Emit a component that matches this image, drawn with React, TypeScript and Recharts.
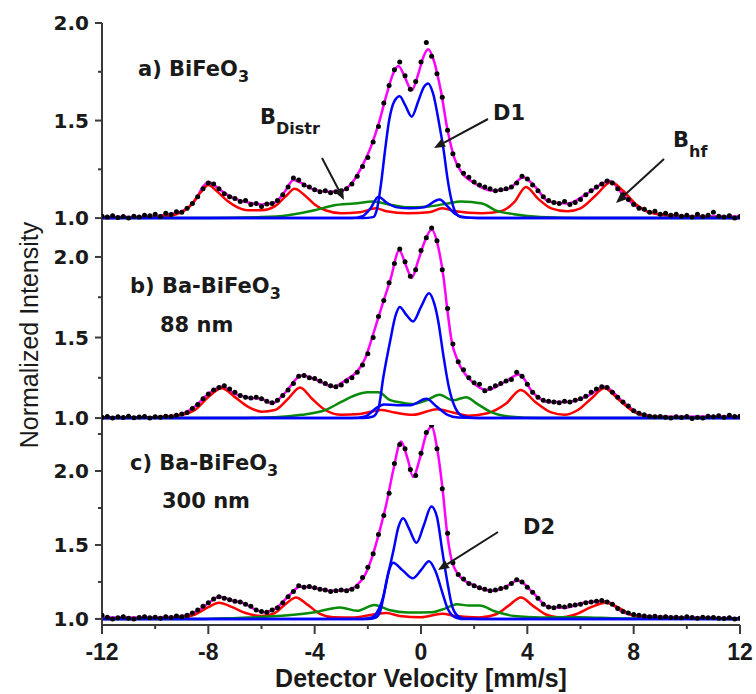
import React from 'react';
import { ComposedChart, Line, Scatter, XAxis, YAxis } from 'recharts';

type Pt = [number, number];

// measured points: one every 0.2 mm/s from -12 to 12 (121 per panel)
const V_START = -12;
const V_STEP = 0.2;

const dotsA = [
  1.010, 1.005, 1.012, 1.003, 1.008, 1.000, 1.010, 1.006, 1.015, 1.012, 1.020,
  1.008, 1.025, 1.018, 1.032, 1.030, 1.050, 1.075, 1.110, 1.150, 1.180, 1.175,
  1.150, 1.125, 1.110, 1.100, 1.085, 1.090, 1.070, 1.075, 1.060, 1.072, 1.075,
  1.090, 1.120, 1.160, 1.205, 1.195, 1.170, 1.160, 1.145, 1.135, 1.140, 1.130,
  1.135, 1.140, 1.150, 1.175, 1.215, 1.265, 1.310, 1.390, 1.470, 1.590, 1.680,
  1.760, 1.800, 1.730, 1.660, 1.700, 1.800, 1.900, 1.830, 1.740, 1.620, 1.450,
  1.330, 1.270, 1.230, 1.210, 1.185, 1.170, 1.160, 1.150, 1.140, 1.145, 1.150,
  1.160, 1.180, 1.215, 1.200, 1.170, 1.140, 1.110, 1.090, 1.080, 1.075, 1.085,
  1.070, 1.080, 1.095, 1.120, 1.140, 1.160, 1.175, 1.190, 1.180, 1.150, 1.120,
  1.095, 1.070, 1.050, 1.045, 1.030, 1.035, 1.020, 1.025, 1.015, 1.020, 1.010,
  1.015, 1.005, 1.020, 1.008, 1.015, 1.030, 1.010, 1.005, 1.012, 1.000, 1.008,
];

const dotsB = [
  1.005, 1.010, 1.000, 1.008, 1.004, 1.012, 1.002, 1.006, 1.010, 1.000, 1.008,
  1.005, 1.012, 1.010, 1.018, 1.025, 1.035, 1.060, 1.085, 1.120, 1.150, 1.175,
  1.190, 1.200, 1.180, 1.160, 1.140, 1.130, 1.125, 1.130, 1.120, 1.105, 1.095,
  1.110, 1.140, 1.175, 1.215, 1.260, 1.265, 1.250, 1.245, 1.230, 1.215, 1.200,
  1.195, 1.205, 1.230, 1.250, 1.285, 1.330, 1.400, 1.500, 1.630, 1.730, 1.840,
  1.960, 2.050, 1.970, 1.880, 1.920, 2.040, 2.120, 2.180, 2.100, 1.920, 1.680,
  1.460, 1.350, 1.300, 1.250, 1.220, 1.210, 1.170, 1.185, 1.200, 1.215, 1.230,
  1.240, 1.285, 1.260, 1.210, 1.160, 1.130, 1.110, 1.105, 1.100, 1.095, 1.105,
  1.100, 1.110, 1.120, 1.135, 1.160, 1.180, 1.195, 1.190, 1.160, 1.130, 1.100,
  1.075, 1.045, 1.030, 1.020, 1.012, 1.008, 1.010, 1.005, 1.000, 1.008, 1.003,
  1.010, 0.998, 1.005, 1.000, 1.012, 1.008, 1.015, 1.005, 1.018, 1.010, 1.012,
];

const dotsC = [
  1.025, 1.012, 1.000, 1.008, 1.015, 1.005, 1.000, 1.010, 1.015, 1.008, 1.012,
  1.005, 1.015, 1.010, 1.020, 1.015, 1.025, 1.040, 1.060, 1.085, 1.110, 1.135,
  1.150, 1.140, 1.130, 1.120, 1.115, 1.100, 1.085, 1.060, 1.050, 1.045, 1.060,
  1.075, 1.110, 1.150, 1.185, 1.225, 1.215, 1.220, 1.210, 1.200, 1.195, 1.185,
  1.190, 1.195, 1.190, 1.200, 1.220, 1.280, 1.350, 1.440, 1.570, 1.700, 1.850,
  2.050, 2.180, 2.150, 2.010, 1.970, 2.120, 2.260, 2.310, 2.150, 1.880, 1.580,
  1.380, 1.300, 1.270, 1.240, 1.225, 1.210, 1.200, 1.190, 1.195, 1.205, 1.215,
  1.240, 1.265, 1.250, 1.215, 1.180, 1.140, 1.100, 1.080, 1.075, 1.085, 1.080,
  1.090, 1.095, 1.100, 1.110, 1.115, 1.120, 1.125, 1.115, 1.100, 1.070, 1.050,
  1.040, 1.030, 1.025, 1.020, 1.015, 1.018, 1.012, 1.015, 1.010, 1.012, 1.008,
  1.015, 1.010, 1.005, 1.012, 1.008, 1.010, 1.005, 1.003, 1.008, 1.000, 1.005,
];

// fitted curves, [velocity, intensity]
const fitA: Pt[] = [
  [-12, 1.005], [-11, 1.005], [-10, 1.01], [-9.5, 1.02], [-9, 1.035], [-8.5, 1.09], [-8.2, 1.16],
  [-8, 1.185], [-7.7, 1.16], [-7.3, 1.12], [-7, 1.1], [-6.5, 1.08], [-6, 1.07], [-5.5, 1.08],
  [-5.1, 1.14], [-4.8, 1.195], [-4.5, 1.18], [-4.1, 1.15], [-3.5, 1.135], [-3, 1.14], [-2.6, 1.18],
  [-2.2, 1.27], [-1.9, 1.36], [-1.6, 1.48], [-1.3, 1.63], [-1.05, 1.74], [-0.85, 1.78], [-0.6, 1.72],
  [-0.35, 1.655], [-0.1, 1.74], [0.1, 1.83], [0.27, 1.865], [0.5, 1.8], [0.75, 1.65], [1, 1.45],
  [1.25, 1.31], [1.5, 1.24], [2, 1.18], [2.7, 1.14], [3.3, 1.15], [3.85, 1.21], [4.3, 1.16],
  [4.8, 1.085], [5.5, 1.075], [6.3, 1.13], [7.1, 1.19], [7.6, 1.12], [8, 1.07], [8.4, 1.04],
  [9, 1.02], [10, 1.01], [12, 1.008],
];
const sextetA: Pt[] = [
  [-12, 1], [-10, 1.005], [-9.2, 1.02], [-8.7, 1.06], [-8.3, 1.13], [-8, 1.17], [-7.7, 1.14],
  [-7.3, 1.09], [-6.9, 1.055], [-6.5, 1.04], [-6, 1.04], [-5.5, 1.06], [-5.1, 1.11], [-4.75, 1.15],
  [-4.4, 1.12], [-4, 1.07], [-3.6, 1.04], [-3, 1.025], [-2.3, 1.03], [-1.7, 1.05], [-1.3, 1.035],
  [-0.5, 1.025], [0.3, 1.03], [0.8, 1.05], [1.3, 1.035], [2.3, 1.025], [3, 1.035], [3.5, 1.08],
  [3.95, 1.16], [4.4, 1.1], [4.9, 1.05], [5.5, 1.035], [6, 1.05], [6.6, 1.12], [7.15, 1.185],
  [7.6, 1.14], [8.1, 1.07], [8.6, 1.03], [9.5, 1.01], [10.5, 1.005], [12, 1],
];
const distrA: Pt[] = [
  [-12, 1], [-8, 1], [-6, 1.005], [-5, 1.015], [-4, 1.04], [-3.3, 1.065], [-2.5, 1.075],
  [-1.8, 1.085], [-1.2, 1.07], [-0.5, 1.055], [0.3, 1.06], [1, 1.075], [1.5, 1.085], [2.3, 1.075],
  [2.8, 1.04], [3.5, 1.02], [4.5, 1.005], [6, 1], [12, 1],
];
const d1A: Pt[] = [
  [-12, 1], [-2.2, 1], [-1.8, 1.005], [-1.65, 1.05], [-1.5, 1.18], [-1.35, 1.35], [-1.2, 1.5],
  [-1, 1.6], [-0.8, 1.625], [-0.6, 1.58], [-0.35, 1.52], [-0.1, 1.6], [0.1, 1.67], [0.27, 1.69],
  [0.45, 1.64], [0.7, 1.47], [0.85, 1.35], [1, 1.2], [1.15, 1.09], [1.3, 1.03], [1.5, 1.005],
  [2.2, 1], [12, 1],
];
const d2A: Pt[] = [
  [-12, 1], [-2.6, 1], [-2.2, 1.01], [-1.9, 1.05], [-1.6, 1.11], [-1.3, 1.08], [-0.9, 1.055],
  [-0.4, 1.05], [0.1, 1.055], [0.7, 1.095], [1, 1.06], [1.3, 1.02], [1.7, 1.003], [2.5, 1], [12, 1],
];

const fitB: Pt[] = [
  [-12, 1.005], [-10, 1.005], [-9.2, 1.015], [-8.6, 1.06], [-8, 1.15], [-7.5, 1.195], [-7, 1.15],
  [-6.4, 1.125], [-6, 1.12], [-5.6, 1.09], [-5.1, 1.16], [-4.5, 1.265], [-3.9, 1.235], [-3.3, 1.195],
  [-2.8, 1.24], [-2.4, 1.29], [-2.1, 1.37], [-1.8, 1.52], [-1.5, 1.68], [-1.15, 1.86], [-0.82, 2.04],
  [-0.55, 1.94], [-0.35, 1.87], [-0.1, 1.98], [0.15, 2.1], [0.4, 2.17], [0.65, 2.06], [0.85, 1.87],
  [1, 1.66], [1.15, 1.48], [1.4, 1.35], [1.9, 1.23], [2.5, 1.175], [3.1, 1.22], [3.7, 1.27],
  [4.2, 1.16], [4.8, 1.1], [5.5, 1.1], [6.3, 1.14], [6.9, 1.195], [7.6, 1.1], [8.2, 1.03],
  [9, 1.008], [12, 1.01],
];
const sextetB: Pt[] = [
  [-12, 1], [-10, 1.005], [-9, 1.02], [-8.5, 1.05], [-8, 1.13], [-7.5, 1.185], [-7, 1.13],
  [-6.5, 1.07], [-6, 1.04], [-5.5, 1.05], [-5, 1.12], [-4.55, 1.19], [-4.1, 1.12], [-3.6, 1.05],
  [-3, 1.02], [-2.3, 1.025], [-1.5, 1.05], [-1, 1.035], [-0.3, 1.02], [0.6, 1.055], [1.2, 1.035],
  [1.8, 1.015], [2.5, 1.03], [3.2, 1.09], [3.75, 1.175], [4.3, 1.1], [4.9, 1.035], [5.4, 1.02],
  [5.9, 1.05], [6.4, 1.12], [6.9, 1.185], [7.4, 1.12], [8, 1.04], [8.6, 1.01], [10, 1.003], [12, 1],
];
const distrB: Pt[] = [
  [-12, 1], [-7, 1], [-5.5, 1.005], [-4.5, 1.02], [-3.6, 1.05], [-3, 1.1], [-2.5, 1.14], [-2, 1.16],
  [-1.6, 1.16], [-1.2, 1.115], [-0.7, 1.095], [-0.3, 1.087], [0.2, 1.11], [0.7, 1.145], [1.2, 1.11],
  [1.7, 1.13], [2.1, 1.09], [2.6, 1.04], [3.3, 1.01], [4.5, 1], [12, 1],
];
const d1B: Pt[] = [
  [-12, 1], [-2.2, 1], [-1.8, 1.01], [-1.6, 1.06], [-1.42, 1.25], [-1.17, 1.47], [-0.95, 1.64],
  [-0.8, 1.69], [-0.55, 1.64], [-0.3, 1.6], [0, 1.69], [0.3, 1.775], [0.5, 1.71], [0.65, 1.6],
  [0.84, 1.39], [1.05, 1.19], [1.3, 1.06], [1.6, 1.01], [2.2, 1], [12, 1],
];
const d2B: Pt[] = [
  [-12, 1], [-2.6, 1], [-2.1, 1.01], [-1.7, 1.06], [-1.4, 1.085], [-0.9, 1.08], [-0.4, 1.08],
  [0.2, 1.12], [0.6, 1.07], [1, 1.02], [1.4, 1.003], [2, 1], [12, 1],
];

const fitC: Pt[] = [
  [-12, 1.01], [-10, 1.01], [-9.2, 1.015], [-8.7, 1.03], [-8.3, 1.066], [-7.9, 1.12], [-7.6, 1.15],
  [-7.1, 1.125], [-6.6, 1.1], [-6.2, 1.06], [-5.9, 1.045], [-5.4, 1.08], [-4.9, 1.17], [-4.55, 1.22],
  [-4, 1.21], [-3.4, 1.19], [-2.8, 1.195], [-2.4, 1.23], [-2.1, 1.3], [-1.8, 1.44], [-1.55, 1.6],
  [-1.3, 1.78], [-1.05, 2.0], [-0.75, 2.2], [-0.5, 2.08], [-0.3, 1.96], [-0.05, 2.08], [0.2, 2.25],
  [0.4, 2.3], [0.6, 2.16], [0.84, 1.83], [0.97, 1.6], [1.15, 1.4], [1.45, 1.29], [1.95, 1.23],
  [2.7, 1.19], [3.1, 1.21], [3.65, 1.26], [4.2, 1.18], [4.8, 1.08], [5.45, 1.075], [6.1, 1.11],
  [6.95, 1.12], [7.6, 1.045], [8.3, 1.02], [9, 1.015], [10, 1.01], [12, 1.005],
];
const sextetC: Pt[] = [
  [-12, 1], [-10, 1.002], [-9, 1.01], [-8.5, 1.03], [-8, 1.08], [-7.6, 1.11], [-7.1, 1.08],
  [-6.6, 1.04], [-6, 1.02], [-5.5, 1.04], [-5.1, 1.1], [-4.7, 1.145], [-4.3, 1.1], [-3.8, 1.035],
  [-3.3, 1.012], [-2.5, 1.01], [-1.8, 1.03], [-1.3, 1.04], [-0.8, 1.02], [0, 1.012], [0.8, 1.035],
  [1.3, 1.02], [2.2, 1.01], [2.8, 1.03], [3.3, 1.09], [3.76, 1.145], [4.2, 1.09], [4.7, 1.03],
  [5.2, 1.01], [5.8, 1.03], [6.4, 1.08], [6.95, 1.11], [7.5, 1.07], [8, 1.02], [8.6, 1.005], [12, 1],
];
const distrC: Pt[] = [
  [-12, 1], [-8.5, 1], [-6.5, 1.01], [-5, 1.025], [-4, 1.045], [-3.05, 1.078], [-2.4, 1.055],
  [-1.75, 1.095], [-1.2, 1.06], [-0.5, 1.043], [0.4, 1.045], [0.9, 1.07], [1.35, 1.1], [1.8, 1.09],
  [2.2, 1.09], [2.8, 1.05], [3.5, 1.02], [4.5, 1.01], [6, 1.012], [7.5, 1.003], [12, 1],
];
const d1C: Pt[] = [
  [-12, 1], [-2, 1], [-1.7, 1.01], [-1.54, 1.05], [-1.29, 1.26], [-1.04, 1.46], [-0.85, 1.62],
  [-0.67, 1.68], [-0.45, 1.61], [-0.17, 1.515], [0.1, 1.63], [0.39, 1.76], [0.6, 1.69], [0.8, 1.46],
  [1, 1.24], [1.15, 1.1], [1.35, 1.025], [1.6, 1.003], [2.2, 1], [12, 1],
];
const d2C: Pt[] = [
  [-12, 1], [-2.2, 1], [-1.85, 1.01], [-1.67, 1.04], [-1.42, 1.15], [-1.2, 1.33], [-1.05, 1.38],
  [-0.7, 1.33], [-0.3, 1.275], [0, 1.33], [0.3, 1.39], [0.55, 1.32], [0.8, 1.18], [1, 1.07],
  [1.2, 1.02], [1.5, 1], [12, 1],
];

const X_TICKS = [-12, -10, -8, -6, -4, -2, 0, 2, 4, 6, 8, 10, 12];
const Y_TICKS_AB = [1, 1.25, 1.5, 1.75, 2];
const Y_TICKS_C = [1, 1.25, 1.5, 1.75, 2, 2.25];

const FIT = '#ff00ff';
const SEXTET = '#ff0000';
const DISTR = '#0a8a0a';
const DOUBLET = '#0000ff';
const AXIS = '#3a3a3a';
const INK = '#1a1a1a';
const SANS = '"DejaVu Sans", sans-serif';
const ARIAL = '"Liberation Sans", Arial, sans-serif';

const toRows = (pts: Pt[]) => pts.map(([x, y]) => ({ x, y }));
const dotRows = (vals: number[]) =>
  vals.map((y, i) => ({ x: Math.round((V_START + i * V_STEP) * 100) / 100, y }));

const isHalf = (v: number) => Math.abs(v * 2 - Math.round(v * 2)) < 1e-6;
const isFour = (v: number) => v % 4 === 0;

const leftTick = (p: any) => {
  const v = p.payload.value;
  const major = isHalf(v);
  return (
    <g>
      <line x1={p.x - (major ? 7 : 4)} y1={p.y} x2={p.x} y2={p.y} stroke={AXIS} strokeWidth={2} />
      {major && (
        <text x={p.x - 13} y={p.y + 7} textAnchor="end" fontFamily={SANS} fontWeight="bold" fontSize={20} fill={INK}>
          {v.toFixed(1)}
        </text>
      )}
    </g>
  );
};

const rightTick = (p: any) => {
  const major = isHalf(p.payload.value);
  return <line x1={p.x - (major ? 7 : 4)} y1={p.y} x2={p.x} y2={p.y} stroke={AXIS} strokeWidth={2} />;
};

const topTick = (p: any) => {
  const major = isFour(p.payload.value);
  return <line x1={p.x} y1={p.y} x2={p.x} y2={p.y + (major ? 10 : 5)} stroke={AXIS} strokeWidth={2} />;
};

const bottomTick = (p: any) => {
  const v = p.payload.value;
  const major = isFour(v);
  return (
    <g>
      <line x1={p.x} y1={p.y} x2={p.x} y2={p.y + (major ? 9 : 4)} stroke={AXIS} strokeWidth={2} />
      {major && (
        <text x={p.x} y={p.y + 35} textAnchor="middle" fontFamily={ARIAL} fontWeight="bold" fontSize={23} fill={INK}>
          {String(v)}
        </text>
      )}
    </g>
  );
};

const Dot = (p: any) => <circle cx={p.cx} cy={p.cy} r={2.5} fill="#000" />;

interface PanelProps {
  top: number;
  plotHeight: number;
  domain: [number, number];
  yTicks: number[];
  dots: number[];
  fit: Pt[];
  sextet: Pt[];
  distr: Pt[];
  doublets: Pt[][];
  frameTop?: boolean;
  xLabels?: boolean;
}

function Panel({ top, plotHeight, domain, yTicks, dots, fit, sextet, distr, doublets, frameTop, xLabels }: PanelProps) {
  const mt = 20;
  const axisH = xLabels ? 40 : 0;
  const mb = xLabels ? 10 : 20;
  const line = (pts: Pt[], color: string, key: string) => (
    <Line
      key={key}
      xAxisId="x"
      yAxisId="y"
      data={toRows(pts)}
      dataKey="y"
      type="monotone"
      stroke={color}
      strokeWidth={2.5}
      dot={false}
      activeDot={false}
      isAnimationActive={false}
    />
  );
  return (
    <div style={{ position: 'absolute', left: 0, top: top - mt }}>
      <ComposedChart width={756} height={plotHeight + mt + axisH + mb} margin={{ top: mt, right: 16, bottom: mb, left: 0 }}>
        <XAxis
          xAxisId="x"
          type="number"
          dataKey="x"
          domain={[-12, 12]}
          allowDataOverflow
          ticks={X_TICKS}
          interval={0}
          hide={!xLabels}
          height={axisH}
          tickSize={0}
          tickMargin={0}
          tickLine={false}
          axisLine={{ stroke: AXIS, strokeWidth: 2 }}
          tick={bottomTick}
        />
        {frameTop && (
          <XAxis
            xAxisId="xt"
            orientation="top"
            type="number"
            domain={[-12, 12]}
            allowDataOverflow
            ticks={X_TICKS}
            interval={0}
            height={0}
            tickSize={0}
            tickMargin={0}
            tickLine={false}
            axisLine={{ stroke: AXIS, strokeWidth: 2 }}
            tick={topTick}
          />
        )}
        <YAxis
          yAxisId="y"
          type="number"
          dataKey="y"
          domain={domain}
          allowDataOverflow
          ticks={yTicks}
          interval={0}
          width={102}
          tickSize={0}
          tickMargin={0}
          tickLine={false}
          axisLine={{ stroke: AXIS, strokeWidth: 2 }}
          tick={leftTick}
        />
        <YAxis
          yAxisId="yr"
          orientation="right"
          type="number"
          domain={domain}
          allowDataOverflow
          ticks={yTicks}
          interval={0}
          width={0}
          tickSize={0}
          tickMargin={0}
          tickLine={false}
          axisLine={{ stroke: AXIS, strokeWidth: 2 }}
          tick={rightTick}
        />
        {line(fit, FIT, 'fit')}
        {line(sextet, SEXTET, 'sextet')}
        {line(distr, DISTR, 'distr')}
        {doublets.map((d, i) => line(d, DOUBLET, `doublet${i}`))}
        <Scatter xAxisId="x" yAxisId="y" data={dotRows(dots)} dataKey="y" shape={Dot} isAnimationActive={false} />
      </ComposedChart>
    </div>
  );
}

function Arrow({ from, to }: { from: Pt; to: Pt }) {
  const [x1, y1] = from;
  const [x2, y2] = to;
  const a = Math.atan2(y2 - y1, x2 - x1);
  const len = 11;
  const half = 4.5;
  const bx = x2 - len * Math.cos(a);
  const by = y2 - len * Math.sin(a);
  const px = -Math.sin(a) * half;
  const py = Math.cos(a) * half;
  return (
    <g>
      <line x1={x1} y1={y1} x2={bx} y2={by} stroke={INK} strokeWidth={2} />
      <polygon points={`${x2},${y2} ${bx + px},${by + py} ${bx - px},${by - py}`} fill={INK} />
    </g>
  );
}

function Annotations() {
  const t = { fontFamily: SANS, fontWeight: 'bold' as const, fontSize: 21, fill: INK };
  return (
    <svg width={756} height={694} style={{ position: 'absolute', left: 0, top: 0, pointerEvents: 'none' }}>
      <text {...t} x={138} y={76}>
        a) BiFeO<tspan fontSize={16} dy={6}>3</tspan>
      </text>
      <text {...t} x={130} y={293}>
        b) Ba-BiFeO<tspan fontSize={16} dy={6}>3</tspan>
      </text>
      <text {...t} x={160} y={332}>88 nm</text>
      <text {...t} x={130} y={470}>
        c) Ba-BiFeO<tspan fontSize={16} dy={6}>3</tspan>
      </text>
      <text {...t} x={162} y={508}>300 nm</text>

      <text {...t} x={260} y={124}>
        B<tspan fontSize={16} dy={10}>Distr</tspan>
      </text>
      <Arrow from={[322, 158]} to={[344, 200]} />
      <text {...t} x={493} y={120}>D1</text>
      <Arrow from={[488, 119]} to={[434, 148]} />
      <text {...t} x={673} y={147}>
        B<tspan fontSize={16} dy={10}>hf</tspan>
      </text>
      <Arrow from={[664, 159]} to={[616, 203]} />
      <text {...t} x={523} y={534}>D2</text>
      <Arrow from={[498, 532]} to={[438, 570]} />

      <text
        transform="translate(29 335) rotate(-90)"
        y={9}
        textAnchor="middle"
        fontFamily={ARIAL}
        fontSize={25}
        fill={INK}
      >
        Normalized Intensity
      </text>
      <text x={421} y={687} textAnchor="middle" fontFamily={ARIAL} fontWeight="bold" fontSize={25} fill={INK}>
        Detector Velocity [mm/s]
      </text>
    </svg>
  );
}

export default function App() {
  return (
    <div style={{ position: 'absolute', left: 0, top: 0, width: 756, height: 694, background: '#fff', overflow: 'hidden' }}>
      <Panel
        top={23}
        plotHeight={199}
        domain={[0.98, 2.0]}
        yTicks={Y_TICKS_AB}
        dots={dotsA}
        fit={fitA}
        sextet={sextetA}
        distr={distrA}
        doublets={[d1A, d2A]}
        frameTop
      />
      <Panel
        top={222}
        plotHeight={203}
        domain={[0.957, 2.217]}
        yTicks={Y_TICKS_AB}
        dots={dotsB}
        fit={fitB}
        sextet={sextetB}
        distr={distrB}
        doublets={[d1B, d2B]}
      />
      <Panel
        top={425}
        plotHeight={200}
        domain={[0.959, 2.311]}
        yTicks={Y_TICKS_C}
        dots={dotsC}
        fit={fitC}
        sextet={sextetC}
        distr={distrC}
        doublets={[d1C, d2C]}
        xLabels
      />
      <Annotations />
    </div>
  );
}
